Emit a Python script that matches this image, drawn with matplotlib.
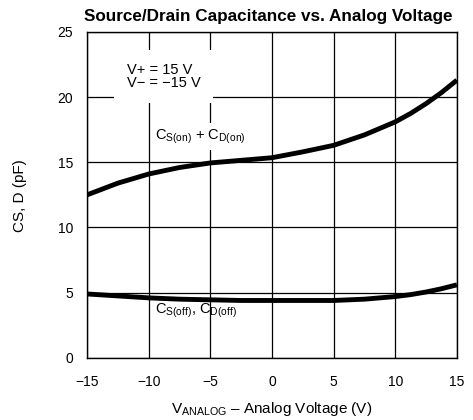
import numpy as np
import matplotlib
matplotlib.use("Agg")
import matplotlib.pyplot as plt

plt.rcParams['font.family'] = ['Liberation Sans', 'DejaVu Sans']
plt.rcParams['mathtext.fontset'] = 'custom'
plt.rcParams['mathtext.rm'] = 'Liberation Sans'
plt.rcParams['mathtext.it'] = 'Liberation Sans'

# analog voltage (V)
v = [-15, -12.5, -10, -7.5, -5, -2.5, 0, 2.5, 5, 7.5, 10, 11.25, 12.5, 13.75, 15]

# capacitance (pF)
c_on = [12.5, 13.4, 14.1, 14.6, 14.95, 15.15, 15.35, 15.8, 16.3, 17.1, 18.1, 18.75, 19.5, 20.35, 21.3]
c_off = [4.9, 4.75, 4.6, 4.5, 4.45, 4.4, 4.4, 4.4, 4.4, 4.5, 4.7, 4.85, 5.05, 5.3, 5.6]

xticks = [-15, -10, -5, 0, 5, 10, 15]
xtick_labels = ['\u221215', '\u221210', '\u22125', '0', '5', '10', '15']
yticks = [0, 5, 10, 15, 20, 25]

fig = plt.figure(figsize=(4.73, 4.2), dpi=100)
ax = fig.add_axes([0.184, 0.148, 0.782, 0.776])

ax.plot(v, c_on, color='black', lw=3.5, solid_capstyle='butt', zorder=3)
ax.plot(v, c_off, color='black', lw=3.5, solid_capstyle='butt', zorder=3)

ax.set_xlim(-15, 15)
ax.set_ylim(0, 25)
ax.set_xticks(xticks)
ax.set_yticks(yticks)
ax.set_xticklabels(xtick_labels)
ax.tick_params(length=0, labelsize=10, pad=10)
ax.tick_params(axis='x', pad=12)
ax.grid(True, color='black', lw=0.9)
ax.set_axisbelow(True)
for s in ax.spines.values():
    s.set_linewidth(1.0)

ax.text(-11.76, 21.6, 'V+ = 15 V\nV\u2212 = \u221215 V', fontsize=10.5, va='center',
        linespacing=0.95, bbox=dict(facecolor='white', edgecolor='none', pad=9), zorder=4)
ax.text(-9.5, 16.95, r'C$_{\mathrm{S(on)}}$ + C$_{\mathrm{D(on)}}$', fontsize=10.5,
        va='center', bbox=dict(facecolor='white', edgecolor='none', pad=3), zorder=2)
ax.text(-9.5, 3.6, r'C$_{\mathrm{S(off)}}$, C$_{\mathrm{D(off)}}$', fontsize=10.5,
        va='center', zorder=4)

ax.set_title('Source/Drain Capacitance vs. Analog Voltage', fontsize=12.3,
             fontweight='bold', pad=8, x=0.49)
ax.set_xlabel('V$_{\\mathrm{ANALOG}}$ \u2013 Analog Voltage (V)', fontsize=11, labelpad=8)
ax.set_ylabel('CS, D (pF)', fontsize=11)
ax.yaxis.set_label_coords(-0.162, 0.497)

fig.savefig('out.png', dpi=100)
